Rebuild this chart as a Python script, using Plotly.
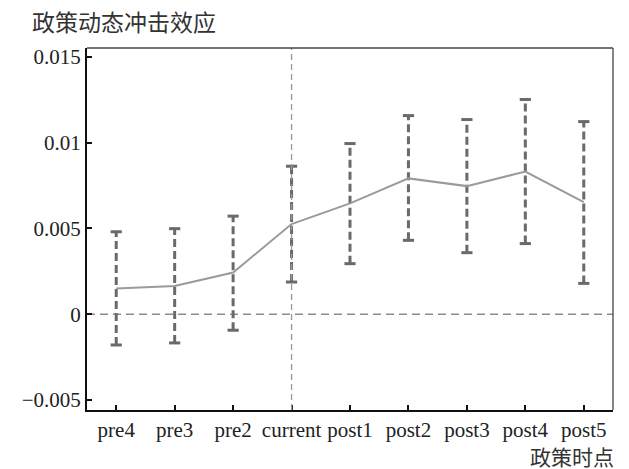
import plotly.graph_objects as go

periods = ["pre4", "pre3", "pre2", "current", "post1", "post2", "post3", "post4", "post5"]
coef = [0.0015, 0.00165, 0.00243, 0.00526, 0.00646, 0.00792, 0.00747, 0.00832, 0.00654]
ci_low = [-0.00179, -0.00167, -0.00093, 0.00188, 0.00295, 0.00431, 0.00359, 0.00412, 0.0018]
ci_high = [0.00481, 0.00499, 0.00572, 0.00863, 0.00995, 0.01158, 0.01135, 0.01252, 0.01123]
y_ticks = [-0.005, 0, 0.005, 0.01, 0.015]
y_tick_text = ["\u22120.005", "0", "0.005", "0.01", "0.015"]

xs = list(range(len(periods)))

fig = go.Figure()

# zero line
fig.add_trace(go.Scatter(x=[-0.5, len(periods) - 0.5], y=[0, 0], mode="lines",
                         line=dict(color="#8c8c8c", width=1.5, dash="8px,5px"),
                         hoverinfo="skip", showlegend=False))

# CI dashed lines
ex, ey = [], []
for i, lo, hi in zip(xs, ci_low, ci_high):
    ex += [i, i, None]
    ey += [lo, hi, None]
fig.add_trace(go.Scatter(x=ex, y=ey, mode="lines",
                         line=dict(color="#6a6a6a", width=3, dash="8px,4px"),
                         showlegend=False, hoverinfo="skip"))
# caps
fig.add_trace(go.Scatter(x=xs + xs, y=ci_low + ci_high, mode="markers",
                         marker=dict(symbol="line-ew", size=8,
                                     line=dict(color="#6a6a6a", width=3)),
                         showlegend=False, hoverinfo="skip"))

# coefficient line
fig.add_trace(go.Scatter(x=xs, y=coef, mode="lines",
                         line=dict(color="#9a9a9a", width=2),
                         showlegend=False))

tick_font = dict(family="Liberation Serif", size=21, color="#222")

fig.update_layout(
    width=621, height=461,
    margin=dict(l=79, r=16, t=40, b=59, autoexpand=False),
    plot_bgcolor="white", paper_bgcolor="white",
    font=dict(family="Liberation Serif", size=21, color="#222"),
    xaxis=dict(range=[-0.5, len(periods) - 0.5], tickvals=xs, ticktext=periods,
               showgrid=False, zeroline=False, showline=True, linecolor="#111",
               linewidth=2, ticks="inside", ticklen=5, tickwidth=2, tickcolor="#111",
               tickfont=tick_font),
    yaxis=dict(range=[-0.00558, 0.01552], tickvals=y_ticks, ticktext=y_tick_text,
               showgrid=False, zeroline=False, showline=True, linecolor="#111",
               linewidth=2, ticks="inside", ticklen=5, tickwidth=2, tickcolor="#111",
               tickfont=tick_font),
    shapes=[
        dict(type="line", xref="x", yref="paper", x0=3, x1=3, y0=0, y1=1,
             line=dict(color="#999", width=1.3, dash="6px,4px")),
        dict(type="line", xref="paper", yref="paper", x0=0, x1=1, y0=1, y1=1,
             line=dict(color="#444", width=1.3)),
        dict(type="line", xref="paper", yref="paper", x0=1, x1=1, y0=0, y1=1,
             line=dict(color="#444", width=1.3)),
    ],
    annotations=[
        dict(text="政策动态冲击效应", xref="paper", yref="paper", x=-0.108, y=1.0,
             xanchor="left", yanchor="bottom", yshift=8, showarrow=False,
             font=dict(family="Noto Sans CJK SC", size=23, color="#333")),
        dict(text="政策时点", xref="paper", yref="paper", x=1.005, y=0,
             xanchor="right", yanchor="middle", yshift=-46, showarrow=False,
             font=dict(family="Noto Sans CJK SC", size=21, color="#333")),
    ],
)

fig.write_html("out.html")
